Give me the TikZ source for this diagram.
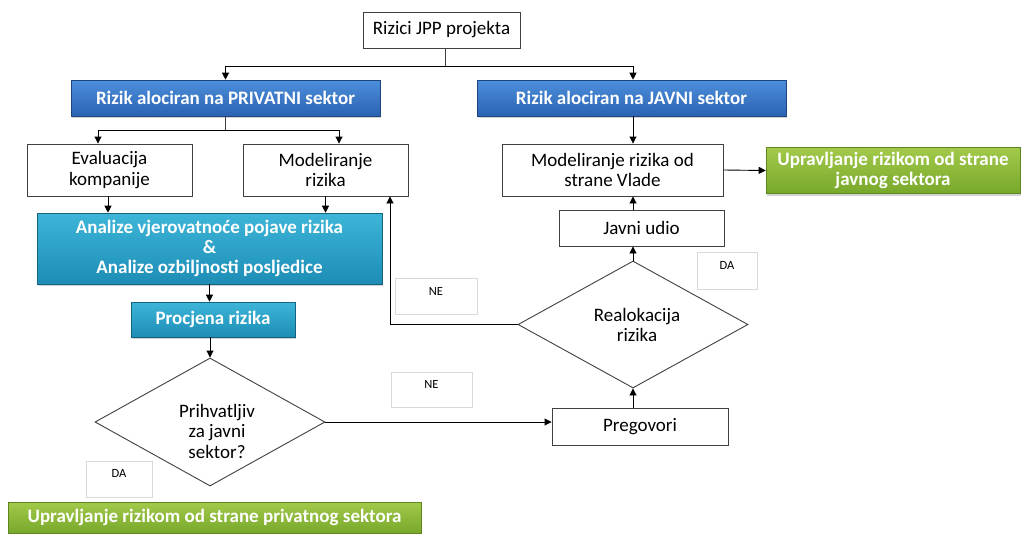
\documentclass[tikz,border=0pt]{standalone}
\usepackage{fontspec}
\setmainfont{Carlito}
\usetikzlibrary{positioning}
\usetikzlibrary{shapes.geometric}
\usetikzlibrary{arrows.meta}
\usetikzlibrary{shadows}
\definecolor{blueTop}{HTML}{4C8FDB}
\definecolor{blueBot}{HTML}{2B62B2}
\definecolor{cyanTop}{HTML}{3DB5D8}
\definecolor{cyanBot}{HTML}{1D8DB6}
\definecolor{greenTop}{HTML}{A2C94A}
\definecolor{greenBot}{HTML}{78A82B}
\definecolor{lineGray}{HTML}{404040}

\begin{document}
\begin{tikzpicture}[
  x=1pt, y=-1pt,
  font=\fontsize{19}{20.5}\selectfont,
  box/.style={draw=lineGray, line width=0.9pt, align=center, inner sep=0pt, fill=white},
  bluebox/.style={draw=blueBot!70!black, line width=0.6pt, align=center, inner sep=0pt, top color=blueTop, bottom color=blueBot, text=white, font=\fontsize{19}{20}\selectfont\bfseries, drop shadow={opacity=0.35, shadow xshift=1pt, shadow yshift=-2pt}},
  cyanbox/.style={bluebox, draw=cyanBot!70!black, top color=cyanTop, bottom color=cyanBot},
  greenbox/.style={bluebox, draw=greenBot!80!black, top color=greenTop, bottom color=greenBot},
  decision/.style={draw=lineGray, line width=0.9pt, diamond, align=center, inner sep=0pt, fill=white},
  answer/.style={draw=black!15, line width=0.6pt, inner sep=0pt, fill=white},
  answertext/.style={font=\fontsize{12.5}{13}\selectfont},
  arrow/.style={-{Triangle[length=7pt,width=7pt]}, line width=0.9pt, draw=black},
  plain/.style={line width=0.9pt, draw=black!75}
]
\useasboundingbox (0,0) rectangle (1023,533);

% top of the tree
\node[box, minimum width=157, minimum height=36] (root) at (441.5,30) {Rizici JPP projekta};
\node[bluebox, minimum width=309, minimum height=36] (privatni) at (225.5,98) {Rizik alociran na PRIVATNI sektor};
\node[bluebox, minimum width=309, minimum height=36] (javni) at (631.5,98) {Rizik alociran na JAVNI sektor};

% private branch
\node[box, minimum width=165, minimum height=52] (evaluacija) at (109.5,170) {Evaluacija\\kompanije};
\node[box, minimum width=165, minimum height=52] (modelP) at (325.5,170) {Modeliranje\\rizika};
\node[cyanbox, minimum width=345, minimum height=71] (analize) at (209.5,248.5)
  {Analize vjerovatnoće pojave rizika\\\&\\Analize ozbiljnosti posljedice};
\node[cyanbox, minimum width=164, minimum height=35] (procjena) at (213,319.5) {Procjena rizika};
\node[decision, minimum width=230, minimum height=128] (prihv) at (210,422) {};
\node[align=center] (prihvtext) at (217,431) {Prihvatljiv\\za javni\\sektor?};
\node[greenbox, minimum width=413, minimum height=31] (upravP) at (214.5,517.5)
  {Upravljanje rizikom od strane privatnog sektora};

% public branch
\node[box, minimum width=221, minimum height=52] (vlada) at (612.5,170) {Modeliranje rizika od\\strane Vlade};
\node[greenbox, minimum width=254, minimum height=46] (upravJ) at (893,170.5)
  {Upravljanje rizikom od strane\\javnog sektora};
\node[box, minimum width=165, minimum height=36] (javniudio) at (641.5,228) {Javni udio};
\node[decision, minimum width=230, minimum height=127] (realok) at (633,324.5) {};
\node[align=center] (realoktext) at (637,325) {Realokacija\\rizika};
\node[box, minimum width=176, minimum height=37] (pregovori) at (640,426.5) {Pregovori};

% answer labels
\node[answer, minimum width=82, minimum height=36] (ne1) at (436,296) {};
\node[answertext] at (ne1.center |- 0,291) {NE};
\node[answer, minimum width=81, minimum height=35] (ne2) at (431.5,389.5) {};
\node[answertext] at (ne2.center |- 0,384) {NE};
\node[answer, minimum width=66, minimum height=36] (da1) at (119,479) {};
\node[answertext] at (da1.center |- 0,473) {DA};
\node[answer, minimum width=60, minimum height=37] (da2) at (727,270.5) {};
\node[answertext] at (da2.center |- 0,265) {DA};

% connectors
\draw[plain] (root.south) ++(3.5,0) coordinate (rootS) -- ++(0,18) coordinate (split);
\draw[arrow] (split) -| (privatni.north);
\draw[arrow] (split) -| ([xshift=1.5pt]javni.north);
\draw[plain] (privatni.south) -- ++(0,14) coordinate (splitP);
\draw[arrow] (splitP) -| ([xshift=-11.5pt]evaluacija.north);
\draw[arrow] (splitP) -| ([xshift=13.5pt]modelP.north);
\draw[arrow] ([xshift=-1.5pt]evaluacija.south) -- ([xshift=-1.5pt]evaluacija.south |- analize.north);
\draw[arrow] (modelP.south) -- (modelP.south |- analize.north);
\draw[arrow] (analize.south) -- (analize.south |- procjena.north);
\draw[arrow] (prihv.north |- procjena.south) -- (prihv.north);
\draw[arrow] (prihv.east) -- (prihv.east -| pregovori.west);
\draw[arrow] (realok.south |- pregovori.north) -- (realok.south);
\draw[arrow] (realok.north) -- (realok.north |- javniudio.south);
\draw[arrow] (realok.north |- javniudio.north) -- (realok.north |- vlada.south);
\draw[arrow] ([xshift=1.5pt]javni.south) -- ([xshift=1.5pt]javni.south |- vlada.north);
\draw[arrow] (vlada.east) -- (upravJ.west);
\draw[arrow] (realok.west) -| ([xshift=64.5pt]modelP.south);

\end{tikzpicture}
\end{document}
